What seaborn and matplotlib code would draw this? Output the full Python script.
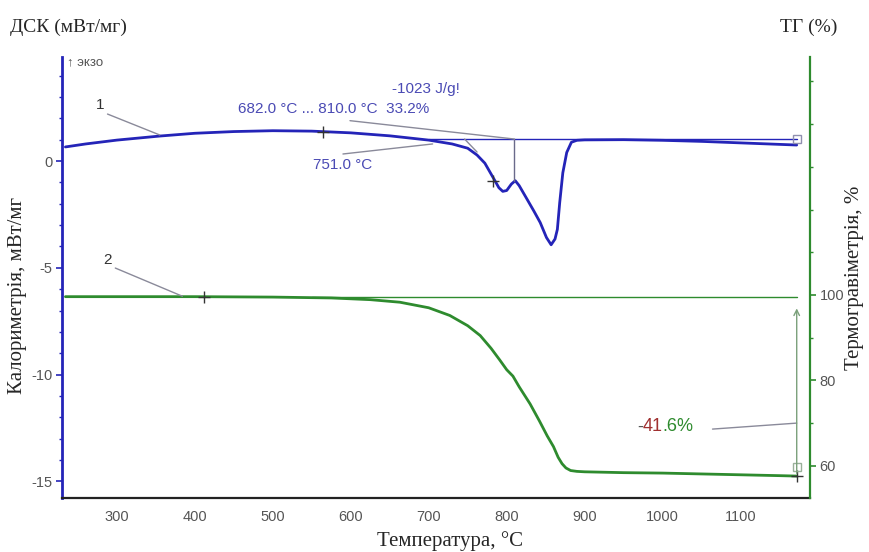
import numpy as np
import pandas as pd
import matplotlib
matplotlib.use('Agg')
import matplotlib.pyplot as plt
from matplotlib.ticker import MultipleLocator, FixedLocator
import seaborn as sns

# Дані ДСК (мВт/мг)
dsc_temp = [234, 260, 300, 355, 400, 450, 500, 550, 600, 650, 700, 730, 750, 762,
            772, 783, 790, 795, 800, 806, 811, 816, 826, 835, 843, 851, 857, 862,
            865, 868, 872, 877, 883, 890, 900, 950, 1000, 1050, 1100, 1150, 1172]
dsc_val = [0.66, 0.80, 0.98, 1.17, 1.30, 1.38, 1.42, 1.40, 1.32, 1.18, 0.98, 0.80,
           0.60, 0.28, -0.10, -0.80, -1.25, -1.42, -1.38, -1.08, -0.92, -1.15,
           -1.78, -2.35, -2.88, -3.58, -3.92, -3.65, -3.20, -1.95, -0.55, 0.40,
           0.88, 0.97, 0.99, 1.00, 0.97, 0.92, 0.85, 0.78, 0.75]

# Дані ТГ (%)
tg_temp = [234, 300, 400, 500, 575, 625, 663, 700, 727, 750, 766, 780, 791, 800,
           808, 816, 830, 842, 852, 860, 866, 871, 876, 882, 890, 900, 950, 1000,
           1050, 1100, 1150, 1172]
tg_val = [99.6, 99.6, 99.6, 99.5, 99.3, 98.9, 98.3, 97.0, 95.2, 92.8, 90.5, 87.5,
          84.8, 82.5, 81.0, 78.5, 74.5, 70.5, 67.0, 64.5, 62.0, 60.5, 59.5, 58.9,
          58.7, 58.6, 58.4, 58.3, 58.1, 57.9, 57.7, 57.6]

# Аналіз піку
peak_start, peak_end = 682.0, 810.0
onset = 751.0
enthalpy = -1023
peak_share = 33.2
mass_loss = -41.6

blue = '#2424b8'
blue_txt = '#4a4ab4'
green = '#2e8b2e'
grey = '#8a8a9a'

sns.set_style("white")
plt.rcParams['font.family'] = ['Liberation Sans', 'DejaVu Sans']
plt.rcParams['axes.unicode_minus'] = False

dsc = pd.DataFrame({'T': dsc_temp, 'v': dsc_val})
tg = pd.DataFrame({'T': tg_temp, 'v': tg_val})

fig = plt.figure(figsize=(8.7, 5.52), dpi=100)
ax = fig.add_axes([0.0716, 0.0973, 0.8594, 0.7994])
ax2 = ax.twinx()

sns.lineplot(data=dsc, x='T', y='v', ax=ax, color=blue, lw=2.0, sort=False)
sns.lineplot(data=tg, x='T', y='v', ax=ax2, color=green, lw=2.0, sort=False)

ax.set_xlim(230, 1189)
ax.set_ylim(-15.79, 4.87)
ax2.set_ylim(52.4, 155.7)

# Осі та поділки
ax.set_xticks(range(300, 1101, 100))
ax.xaxis.set_minor_locator(MultipleLocator(25))
ax.yaxis.set_major_locator(FixedLocator([-15, -10, -5, 0]))
ax.yaxis.set_minor_locator(FixedLocator(list(range(-15, 5))))
ax2.yaxis.set_major_locator(FixedLocator([60, 80, 100]))
ax2.yaxis.set_minor_locator(FixedLocator([70, 90, 110, 120, 130, 140, 150]))

ax.tick_params(axis='x', which='major', direction='inout', length=5, width=1.2,
               color='#333333', labelcolor='#555555', labelsize=10.5, pad=6)
ax.tick_params(axis='x', which='minor', direction='inout', length=3, width=1.0, color='#333333')
ax.tick_params(axis='y', which='major', direction='out', length=4, width=1.2,
               color=blue, labelcolor='#555555', labelsize=10.5, pad=3)
ax.tick_params(axis='y', which='minor', direction='out', length=2, width=1.0, color=blue)
ax2.tick_params(axis='y', which='major', direction='out', length=4, width=1.2,
                color=green, labelcolor='#555555', labelsize=10.5, pad=3)
ax2.tick_params(axis='y', which='minor', direction='out', length=2.5, width=1.0, color=green)

for a in (ax, ax2):
    a.spines['top'].set_visible(False)
    a.set_xlabel('')
    a.set_ylabel('')
ax.spines['left'].set_color(blue)
ax.spines['left'].set_linewidth(2.0)
ax.spines['bottom'].set_color('#222222')
ax.spines['bottom'].set_linewidth(1.6)
ax.spines['right'].set_visible(False)
ax2.spines['left'].set_visible(False)
ax2.spines['bottom'].set_visible(False)
ax2.spines['right'].set_color(green)
ax2.spines['right'].set_linewidth(1.6)

serif = ['Liberation Serif', 'DejaVu Serif']
fig.text(450 / 870, 1 - 541 / 552, 'Температура, °C', family=serif, fontsize=15,
         ha='center', va='center')
fig.text(18 / 870, 1 - 295 / 552, 'Калориметрія, мВт/мг', family=serif, fontsize=15,
         ha='center', va='center', rotation=90)
fig.text(855 / 870, 1 - 278 / 552, 'Термогравіметрія, %', family=serif, fontsize=15,
         ha='center', va='center', rotation=90)

fig.text(0.012, 0.951, 'ДСК (мВт/мг)', family=serif, fontsize=14, va='center')
fig.text(0.93, 0.951, 'ТГ (%)', family=serif, fontsize=14, va='center', ha='center')

# Позначки ДСК
ax.text(236, 4.62, '↑ экзо', fontsize=9.5, color='#555555', va='center', ha='left')
ax.plot([700, 1172], [1.02, 1.02], color=blue, lw=1.0)
ax.plot([peak_end, peak_end], [1.02, -0.92], color='#6a6a8a', lw=1.0)
ax.plot([746, 762], [1.03, 0.42], color=grey, lw=1.0)
ax.plot([599, 810], [1.89, 1.03], color=grey, lw=1.0)
ax.plot([590, 705], [0.33, 0.80], color=grey, lw=1.0)
ax.plot([288, 355], [2.2, 1.22], color=grey, lw=1.0)
ax.text(279, 2.62, '1', fontsize=11, color='#333333', ha='center', va='center')
ax.plot([565, 783], [1.36, -0.92], '+', color='#333333', ms=8, mew=1.0)
ax.plot([1172], [1.02], 's', mfc='none', mec='#9090b0', ms=6, mew=1.0)

ax.text(653, 3.38, f'{enthalpy} J/g!', fontsize=11, color=blue_txt, va='center', ha='left')
ax.text(455, 2.44, f'{peak_start:.1f} °C ... {peak_end:.1f} °C  {peak_share}%',
        fontsize=11, color=blue_txt, va='center', ha='left')
ax.text(552, -0.19, f'{onset:.1f} °C', fontsize=11, color=blue_txt, va='center', ha='left')

# Позначки ТГ
ax2.plot([550, 1172], [99.6, 99.6], color=green, lw=1.0)
ax2.annotate('', xy=(1172, 97.5), xytext=(1172, 57.6),
             arrowprops=dict(arrowstyle='->', color='#7aa07a', lw=1.0))
ax2.plot([1064, 1172], [68.6, 70.0], color=grey, lw=1.0)
ax2.plot([298, 384], [106.3, 99.7], color=grey, lw=1.0)
ax2.text(288, 108.2, '2', fontsize=11, color='#333333', ha='center', va='center')
ax2.plot([412, 1172], [99.6, 57.6], '+', color='#333333', ms=8, mew=1.0)
ax2.plot([1172], [59.7], 's', mfc='none', mec='#9ab09a', ms=6, mew=1.0)

ml = f'{mass_loss}%'
t1 = ax2.text(967, 69.1, ml[0], fontsize=13, color='#555555', va='center', ha='left')
fig.canvas.draw()
r = fig.canvas.get_renderer()
bb = t1.get_window_extent(r)
x1 = ax2.transData.inverted().transform((bb.x1, 0))[0]
t2 = ax2.text(x1, 69.1, ml[1:3], fontsize=13, color='#a03030', va='center', ha='left')
bb = t2.get_window_extent(r)
x2 = ax2.transData.inverted().transform((bb.x1, 0))[0]
ax2.text(x2, 69.1, ml[3:], fontsize=13, color=green, va='center', ha='left')

fig.savefig('out.png', dpi=100)
